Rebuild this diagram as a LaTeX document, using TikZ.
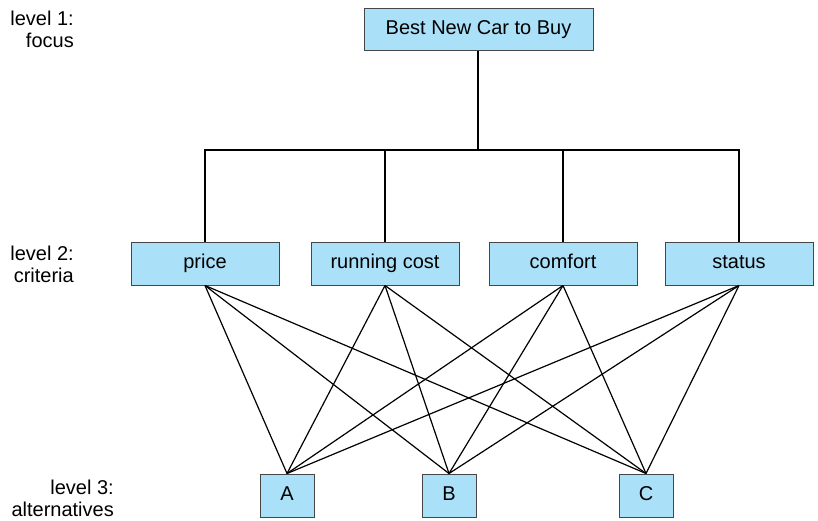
\documentclass[tikz,border=0pt]{standalone}
\usepackage{fontspec}
\setmainfont{Liberation Sans}
\definecolor{boxblue}{RGB}{170,224,248}
\definecolor{boxline}{RGB}{70,70,70}

\begin{document}
\begin{tikzpicture}[x=1pt, y=-1pt, font=\fontsize{20}{22}\selectfont,
  box/.style={draw=boxline, fill=boxblue, line width=1pt, inner sep=0pt,
    minimum height=43pt, text height=14.5pt, text depth=4pt},
  crit/.style={box, minimum width=148pt},
  alt/.style={box, minimum width=54pt},
  levtext/.style={anchor=east, align=right, inner sep=0pt},
  link/.style={black, line width=1.2pt}]
  \useasboundingbox (0,0) rectangle (818,520);
  \node[box, minimum width=229pt, minimum height=42pt] (top) at (478.5,29) {Best New Car to Buy};
  \node[crit] (price) at (205,263.5) {price};
  \node[crit] (run) at (385,263.5) {running cost};
  \node[crit] (comf) at (563,263.5) {comfort};
  \node[crit] (stat) at (739,263.5) {status};
  \node[alt] (A) at (287,495.5) {A};
  \node[alt] (B) at (449,495.5) {B};
  \node[alt] (C) at (646,495.5) {C};
  \coordinate (bus) at (478,150);
  % tree to the criteria
  \draw[link] (top.south -| bus) -- (bus);
  \draw[link] (price.north) |- (bus) -| (stat.north);
  \foreach \c in {run, comf}{
    \draw[link] (\c.north) -- (\c.north |- bus);
  }
  % criteria to alternatives
  \foreach \c in {price, run, comf, stat}{
    \foreach \a in {A, B, C}{
      \draw[link] (\c.south) -- (\a.north);
    }
  }
  \node[levtext] (lev1) at (74,29) {level 1:\\focus};
  \node[levtext] (lev2) at (74,264) {level 2:\\criteria};
  \node[levtext] (lev3) at (114,498) {level 3:\\alternatives};
\end{tikzpicture}
\end{document}
